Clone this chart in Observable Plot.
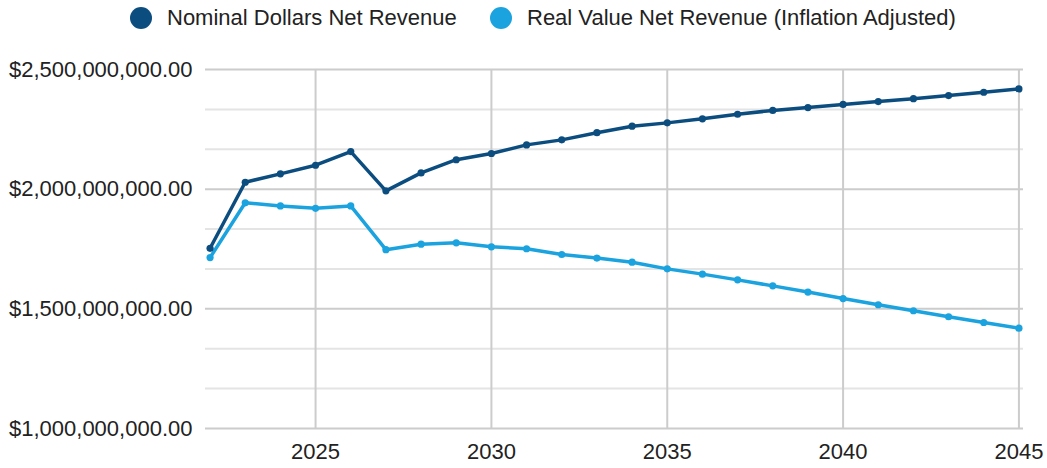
<!DOCTYPE html>
<html>
<head>
<meta charset="utf-8">
<script src="https://cdn.jsdelivr.net/npm/d3@7"></script>
<script src="https://cdn.jsdelivr.net/npm/@observablehq/plot@0.6"></script>
<style>
  html, body { margin: 0; padding: 0; background: #fff; }
  body { width: 1047px; height: 468px; overflow: hidden; font-family: "Liberation Sans", Arial, sans-serif; color: #222; }
  #legend { height: 40px; position: relative; font-size: 22px; }
  .item { position: absolute; top: 5px; display: flex; align-items: center; white-space: nowrap; }
  .sw { width: 22px; height: 22px; border-radius: 50%; margin-right: 15px; }
</style>
</head>
<body>
<div id="legend"></div>
<div id="chart"></div>
<script>
const years = [2022,2023,2024,2025,2026,2027,2028,2029,2030,2031,2032,2033,2034,2035,2036,2037,2038,2039,2040,2041,2042,2043,2044,2045];
const nominal = [1.753e9,2.029e9,2.064e9,2.100e9,2.157e9,1.993e9,2.068e9,2.123e9,2.149e9,2.185e9,2.206e9,2.236e9,2.263e9,2.277e9,2.294e9,2.313e9,2.329e9,2.341e9,2.354e9,2.366e9,2.378e9,2.391e9,2.405e9,2.419e9];
const real = [1.714e9,1.943e9,1.930e9,1.920e9,1.930e9,1.747e9,1.770e9,1.776e9,1.759e9,1.751e9,1.727e9,1.712e9,1.695e9,1.667e9,1.645e9,1.621e9,1.596e9,1.570e9,1.543e9,1.517e9,1.492e9,1.467e9,1.443e9,1.419e9];
const seriesNames = ["Nominal Dollars Net Revenue", "Real Value Net Revenue (Inflation Adjusted)"];
const seriesColors = ["#0c4d80", "#1ba3df"];
const yTicks = [1.0e9, 1.5e9, 2.0e9, 2.5e9];
const yMinorTicks = [1.1667e9, 1.3333e9, 1.6667e9, 1.8333e9, 2.1667e9, 2.3333e9];
const xTicks = [2025, 2030, 2035, 2040, 2045];

// legend
const legend = document.getElementById("legend");
const legendLeft = [130, 490];
seriesNames.forEach((n, i) => {
  const it = document.createElement("div");
  it.className = "item";
  it.style.left = legendLeft[i] + "px";
  it.innerHTML = `<span class="sw" style="background:${seriesColors[i]}"></span><span>${n}</span>`;
  legend.appendChild(it);
});

const data = [];
years.forEach((y, i) => {
  data.push({year: y, value: nominal[i], series: seriesNames[0]});
});
years.forEach((y, i) => {
  data.push({year: y, value: real[i], series: seriesNames[1]});
});

const fmt = d => "$" + d3.format(",.2f")(d);

const chart = Plot.plot({
  width: 1047,
  height: 428,
  marginLeft: 205,
  marginRight: 24,
  marginTop: 29,
  marginBottom: 40,
  style: {fontFamily: "'Liberation Sans', Arial, sans-serif", fontSize: "22px", color: "#222", background: "#fff"},
  x: {domain: [2021.87, 2045.13], label: null},
  y: {domain: [1.0e9, 2.5e9], label: null},
  color: {domain: seriesNames, range: seriesColors},
  marks: [
    Plot.ruleY(yMinorTicks, {stroke: "#e4e4e4", strokeWidth: 2}),
    Plot.ruleY(yTicks, {stroke: "#cccccc", strokeWidth: 2}),
    Plot.ruleX(xTicks, {stroke: "#cccccc", strokeWidth: 2}),
    Plot.axisY({ticks: yTicks, tickFormat: fmt, tickSize: 0, tickPadding: 13, fill: "#222", label: null}),
    Plot.axisX({ticks: xTicks, tickFormat: d => String(d), tickSize: 0, tickPadding: 15, fill: "#222", label: null}),
    Plot.lineY(data, {x: "year", y: "value", z: "series", stroke: "series", strokeWidth: 3.5}),
    Plot.dot(data, {x: "year", y: "value", fill: "series", r: 3.6})
  ]
});
document.getElementById("chart").appendChild(chart);
</script>
</body>
</html>
